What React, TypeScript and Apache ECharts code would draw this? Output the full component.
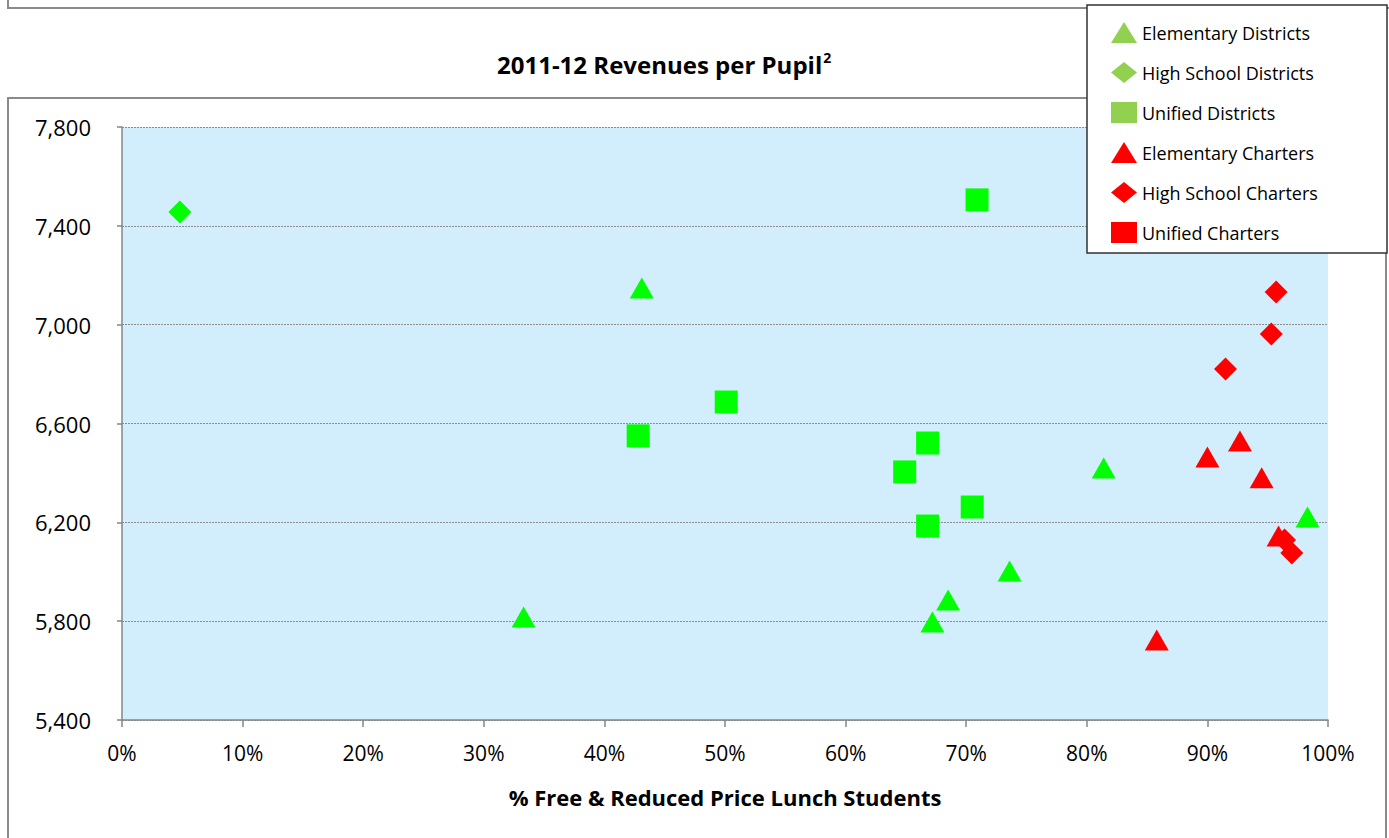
import React, { useEffect, useRef } from "react";
import * as echarts from "echarts";

const yTicks = [5400, 5800, 6200, 6600, 7000, 7400, 7800];
const xTicks = [0, 10, 20, 30, 40, 50, 60, 70, 80, 90, 100];

const seriesNames = [
  "Elementary Districts",
  "High School Districts",
  "Unified Districts",
  "Elementary Charters",
  "High School Charters",
  "Unified Charters",
];

const elemDistricts: [number, number][] = [
  [43.1, 7148], [33.3, 5817], [67.2, 5797], [68.5, 5886], [73.6, 6003], [81.4, 6420], [98.3, 6222],
];
const hsDistricts: [number, number][] = [[4.8, 7456]];
const unifiedDistricts: [number, number][] = [
  [70.9, 7505], [50.1, 6687], [42.8, 6550], [66.8, 6521], [64.9, 6404], [70.5, 6262], [66.8, 6185],
];
const elemCharters: [number, number][] = [
  [90.0, 6464], [92.7, 6529], [94.5, 6380], [95.9, 6145], [85.8, 5724],
];
const hsCharters: [number, number][] = [
  [95.7, 7132], [95.3, 6962], [91.5, 6821], [96.4, 6129], [97.0, 6076],
];
const unifiedCharters: [number, number][] = [];

const FONT = "'Open Sans', 'Noto Sans', sans-serif";

export default function App() {
  const ref = useRef<HTMLDivElement>(null);
  useEffect(() => {
    if (!ref.current) return;
    const chart = echarts.init(ref.current, undefined, { renderer: "svg" });
    const green = "#00FF00";
    const red = "#FF0000";
    const legendGreen = "#92D050";
    const mk = (name: string, data: [number, number][], symbol: string, size: number[] | number, color: string) => ({
      type: "scatter",
      name,
      data,
      symbol,
      symbolSize: size,
      itemStyle: { color, opacity: 1 },
      emphasis: { disabled: true },
      z: 2,
    });
    chart.setOption({
      animation: false,
      textStyle: { fontFamily: FONT },
      title: {
        text: "2011-12 Revenues per Pupil{sup|2}",
        left: 492,
        top: 45,
        textStyle: {
          fontFamily: FONT,
          fontSize: 24,
          fontWeight: "bold",
          color: "#000",
          rich: {
            sup: { fontSize: 14, fontWeight: "bold", color: "#000", fontFamily: FONT, padding: [0, 0, 14, 1] },
          },
        },
      },
      grid: {
        left: 122,
        top: 127,
        width: 1206,
        height: 593,
        show: true,
        backgroundColor: "#D2EEFC",
        borderWidth: 0,
      },
      legend: {
        orient: "vertical",
        left: 1106,
        top: 17,
        itemGap: 19,
        itemWidth: 26,
        itemHeight: 21,
        z: 5,
        textStyle: { fontFamily: FONT, fontSize: 18, color: "#000" },
        data: [
          { name: seriesNames[0], icon: "triangle", itemStyle: { color: legendGreen } },
          { name: seriesNames[1], icon: "diamond", itemStyle: { color: legendGreen } },
          { name: seriesNames[2], icon: "rect", itemStyle: { color: legendGreen } },
          { name: seriesNames[3], icon: "triangle", itemStyle: { color: red } },
          { name: seriesNames[4], icon: "diamond", itemStyle: { color: red } },
          { name: seriesNames[5], icon: "rect", itemStyle: { color: red } },
        ],
      },
      graphic: [
        {
          type: "polyline",
          shape: { points: [[8, 0], [8, 8], [1395, 8]] },
          style: { stroke: "#8a8a8a", lineWidth: 2, fill: null },
          z: 1,
        },
        {
          type: "rect",
          shape: { x: 8, y: 98, width: 1378, height: 800 },
          style: { stroke: "#8a8a8a", lineWidth: 2, fill: null },
          z: 1,
        },
        {
          type: "rect",
          shape: { x: 1087, y: 5, width: 300, height: 248 },
          style: { stroke: "#333", lineWidth: 1.5, fill: "#fff" },
          z: 4,
        },
      ],
      xAxis: {
        type: "value",
        min: 0,
        max: 100,
        interval: 10,
        name: "% Free & Reduced Price Lunch Students",
        nameLocation: "middle",
        nameGap: 66,
        nameTextStyle: { fontFamily: FONT, fontSize: 22, fontWeight: "bold", color: "#000" },
        axisLine: { show: true, lineStyle: { color: "#868686", width: 1.5 } },
        axisTick: { show: true, length: 7, lineStyle: { color: "#868686", width: 1.5 } },
        splitLine: { show: false },
        axisLabel: {
          formatter: (v: number) => v + "%",
          fontFamily: FONT,
          fontSize: 21,
          color: "#000",
          margin: 22,
        },
      },
      yAxis: {
        type: "value",
        min: 5400,
        max: 7800,
        axisLine: { show: true, lineStyle: { color: "#868686", width: 1.5 } },
        axisTick: { show: true, length: 5, customValues: yTicks, lineStyle: { color: "#868686", width: 1.5 } },
        splitLine: { show: true, lineStyle: { color: "#8c8c8c", type: [2, 1], width: 1 } },
        axisLabel: {
          customValues: yTicks,
          formatter: (v: number) => v.toLocaleString("en-US"),
          fontFamily: FONT,
          fontSize: 22,
          color: "#000",
          margin: 31,
        },
      },
      series: [
        mk(seriesNames[0], elemDistricts, "triangle", [24, 21], green),
        mk(seriesNames[1], hsDistricts, "diamond", [23, 23], green),
        mk(seriesNames[2], unifiedDistricts, "rect", [23, 23], green),
        mk(seriesNames[3], elemCharters, "triangle", [24, 21], red),
        mk(seriesNames[4], hsCharters, "diamond", [23, 23], red),
        mk(seriesNames[5], unifiedCharters, "rect", [23, 23], red),
      ],
    });
    return () => chart.dispose();
  }, []);
  return (
    <div
      ref={ref}
      style={{ position: "fixed", left: 0, top: 0, width: 1389, height: 838, background: "#fff" }}
    />
  );
}
